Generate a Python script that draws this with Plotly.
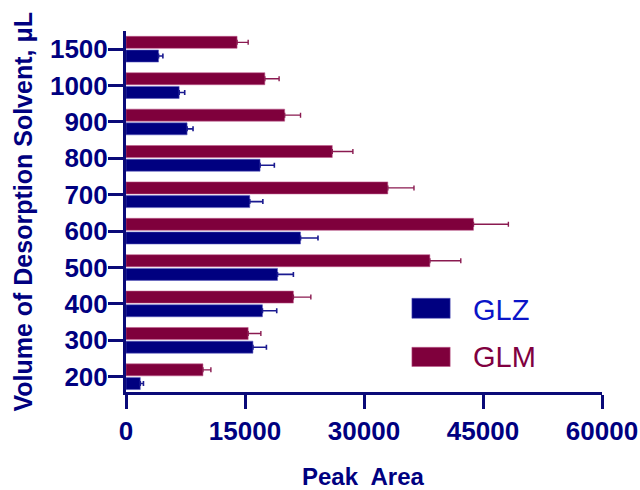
import plotly.graph_objects as go

# Desorption solvent volumes (µL), bottom to top
volumes = ["200", "300", "400", "500", "600", "700", "800", "900", "1000", "1500"]

# Mean peak areas and upper error (SD) for each sorbent
glz_area = [1800, 16000, 17200, 19100, 22000, 15600, 16900, 7700, 6700, 4100]
glz_err = [400, 1700, 1800, 2000, 2200, 1650, 1800, 750, 700, 550]
glm_area = [9700, 15400, 21100, 38300, 43800, 33000, 26000, 20000, 17500, 14000]
glm_err = [1000, 1600, 2200, 3900, 4400, 3300, 2600, 2000, 1800, 1400]

x_ticks = [0, 15000, 30000, 45000, 60000]

NAVY = "#000080"
MAROON = "#7f003c"
AXIS = "#0a0a78"
FONT = "Liberation Sans, Arial, sans-serif"

fig = go.Figure()
fig.add_trace(go.Bar(
    name="GLZ", y=volumes, x=glz_area, orientation="h",
    marker=dict(color=NAVY, line=dict(color="rgba(90,90,190,0.7)", width=0.8)),
    error_x=dict(type="data", symmetric=False, array=glz_err,
                 arrayminus=[0] * len(glz_err), color="#1a1a90",
                 thickness=1.6, width=2.5),
))
fig.add_trace(go.Bar(
    name="GLM", y=volumes, x=glm_area, orientation="h",
    marker=dict(color=MAROON, line=dict(color="rgba(190,90,140,0.7)", width=0.8)),
    error_x=dict(type="data", symmetric=False, array=glm_err,
                 arrayminus=[0] * len(glm_err), color="#8a1a50",
                 thickness=1.4, width=2.5),
))

W, H = 640, 490
L, R, T, B = 125.5, 602, 31, 392
pw, ph = R - L, B - T


def px(x):
    return (x - L) / pw


def py(y):
    return (B - y) / ph


shapes = [
    dict(type="rect", xref="paper", yref="paper",
         x0=px(411.7), x1=px(450), y0=py(318.3), y1=py(298.3),
         fillcolor=NAVY, line=dict(width=0.8, color="rgba(90,90,190,0.7)")),
    dict(type="rect", xref="paper", yref="paper",
         x0=px(411.7), x1=px(450), y0=py(366.5), y1=py(347.3),
         fillcolor=MAROON, line=dict(width=0.8, color="rgba(190,90,140,0.7)")),
]

annotations = [
    dict(text="GLZ", xref="paper", yref="paper", x=px(471), y=py(309.5),
         xanchor="left", yanchor="middle", showarrow=False,
         font=dict(family=FONT, size=29, color="#0a14c8")),
    dict(text="GLM", xref="paper", yref="paper", x=px(471), y=py(357),
         xanchor="left", yanchor="middle", showarrow=False,
         font=dict(family=FONT, size=29, color="#800040")),
    dict(text="Peak  Area", xref="paper", yref="paper", x=px(363), y=py(476.5),
         xanchor="center", yanchor="middle", showarrow=False, borderpad=0,
         font=dict(family=FONT, size=24, color=NAVY, weight="bold")),
    dict(text="Volume of Desorption Solvent, \u03bcL", xref="paper", yref="paper",
         x=px(22), y=py(212), xanchor="center", yanchor="middle",
         textangle=-90, showarrow=False,
         font=dict(family=FONT, size=25, color=NAVY, weight="bold")),
]

fig.update_layout(
    width=W, height=H,
    margin=dict(l=L, r=W - R, t=T, b=H - B, pad=0, autoexpand=False),
    paper_bgcolor="white", plot_bgcolor="white",
    barmode="group", bargap=0.247, bargroupgap=0.124,
    showlegend=False,
    shapes=shapes, annotations=annotations,
    font=dict(family=FONT, color=NAVY),
)

fig.update_xaxes(
    range=[0, 60000], tickvals=x_ticks, ticktext=[str(v) for v in x_ticks],
    automargin=False,
    showgrid=False, zeroline=False,
    showline=True, linecolor=AXIS, linewidth=3,
    ticks="outside", ticklen=14, tickwidth=3, tickcolor=AXIS,
    tickfont=dict(family=FONT, size=26, color=NAVY, weight="bold"),
)
fig.update_yaxes(
    type="category", categoryorder="array", categoryarray=volumes,
    range=[-0.42, 9.5], automargin=False,
    showgrid=False, zeroline=False,
    showline=True, linecolor=AXIS, linewidth=3,
    ticks="outside", ticklen=15, tickwidth=3, tickcolor=AXIS,
    ticklabelstandoff=-5,
    tickfont=dict(family=FONT, size=26, color=NAVY, weight="bold"),
)

fig.write_html("out.html")
